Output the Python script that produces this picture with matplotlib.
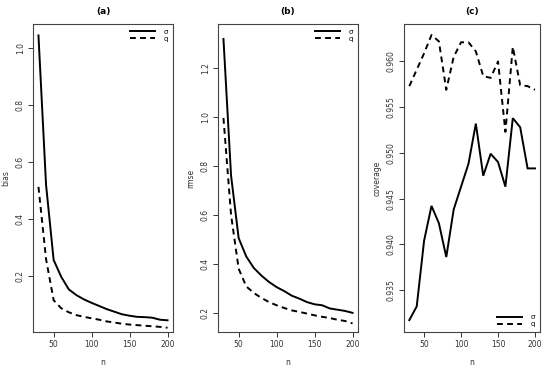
import matplotlib
matplotlib.use("Agg")
import matplotlib.pyplot as plt
import numpy as np

n = [30, 40, 50, 60, 70, 80, 90, 100, 110, 120, 130, 140, 150, 160, 170, 180, 190, 200]

bias_sigma = [1.043, 0.52, 0.257, 0.198, 0.154, 0.134, 0.119, 0.107, 0.096, 0.085,
              0.076, 0.067, 0.062, 0.058, 0.057, 0.055, 0.048, 0.046]
bias_q = [0.513, 0.26, 0.116, 0.088, 0.074, 0.064, 0.058, 0.053, 0.048, 0.042,
          0.038, 0.034, 0.031, 0.029, 0.027, 0.025, 0.023, 0.020]

rmse_sigma = [1.317, 0.76, 0.505, 0.430, 0.383, 0.352, 0.326, 0.305, 0.289, 0.270,
              0.258, 0.244, 0.235, 0.231, 0.218, 0.213, 0.208, 0.200]
rmse_q = [0.995, 0.60, 0.380, 0.308, 0.281, 0.261, 0.244, 0.231, 0.220, 0.210,
          0.204, 0.197, 0.190, 0.184, 0.179, 0.172, 0.167, 0.157]

cov_sigma = [0.9317, 0.9332, 0.9404, 0.9442, 0.9423, 0.9386, 0.9438, 0.9463, 0.9488, 0.9532,
             0.9475, 0.9499, 0.9490, 0.9463, 0.9538, 0.9528, 0.9483, 0.9483]
cov_q = [0.9573, 0.9591, 0.9609, 0.9629, 0.9622, 0.9569, 0.9605, 0.9621, 0.9621, 0.9611,
         0.9584, 0.9582, 0.9600, 0.9523, 0.9616, 0.9574, 0.9573, 0.9569]

titles = ["(a)", "(b)", "(c)"]
ylabels = ["bias", "rmse", "coverage"]
legend_labels = ["σ", "q"]
xticks = [50, 100, 150, 200]
yticks_list = [[0.2, 0.4, 0.6, 0.8, 1.0],
               [0.2, 0.4, 0.6, 0.8, 1.0, 1.2],
               [0.935, 0.940, 0.945, 0.950, 0.955, 0.960]]
yfmt = ["{:.1f}", "{:.1f}", "{:.3f}"]
ylims = [(0.005, 1.083), (0.122, 1.378), (0.9304, 0.9641)]

fig = plt.figure(figsize=(5.5, 3.66), dpi=100)
H = 366.0
W = 550.0
boxes = [(33.3, 172.7), (218.3, 357.7), (404.3, 540.0)]
top_px, bot_px = 24.0, 332.0

series = [(bias_sigma, bias_q), (rmse_sigma, rmse_q), (cov_sigma, cov_q)]
for i in range(3):
    l, r = boxes[i]
    ax = fig.add_axes([l / W, 1 - bot_px / H, (r - l) / W, (bot_px - top_px) / H])
    s, q = series[i]
    ax.plot(n, s, color="black", lw=1.4, solid_joinstyle="miter", label=legend_labels[0])
    ax.plot(n, q, color="black", lw=1.4, linestyle=(0, (3, 2.2)), label=legend_labels[1])
    ax.set_xlim(23.2, 206.8)
    ax.set_ylim(*ylims[i])
    ax.set_xticks(xticks)
    ax.set_xticklabels([str(v) for v in xticks])
    ax.set_yticks(yticks_list[i])
    ax.set_yticklabels([yfmt[i].format(v) for v in yticks_list[i]], rotation=90, va="center")
    ax.tick_params(axis="both", direction="out", length=3.5, width=0.7, labelsize=5.5,
                   colors="#333333", pad=2.5)
    for sp in ax.spines.values():
        sp.set_color("#444444")
        sp.set_linewidth(0.8)
    ax.set_title(titles[i], fontsize=6.5, fontweight="bold", pad=7)
    ax.set_xlabel("n", fontsize=5.5, color="#333333", labelpad=6)
    ax.set_ylabel(ylabels[i], fontsize=5.5, color="#333333", labelpad=4)
    loc = "lower right" if i == 2 else "upper right"
    ax.legend(loc=loc, frameon=False, fontsize=5, handlelength=3.6, handletextpad=1.2,
              labelspacing=0.15, borderaxespad=0.3)

fig.savefig("out.png", dpi=100)
